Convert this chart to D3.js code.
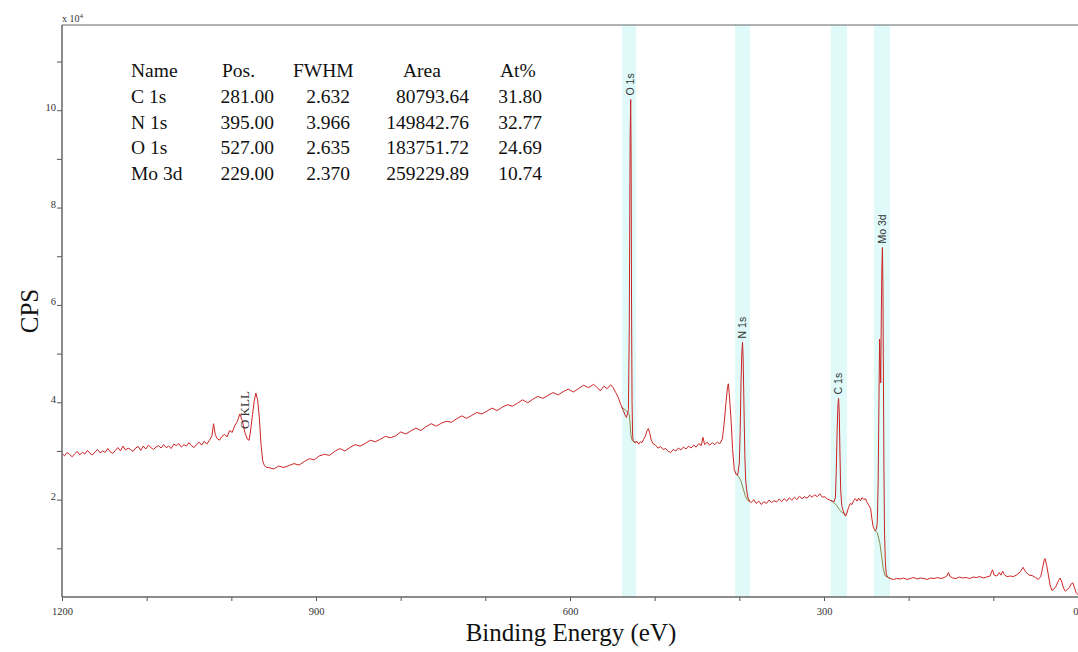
<!DOCTYPE html>
<html>
<head>
<meta charset="utf-8">
<script src="https://cdn.jsdelivr.net/npm/d3@7"></script>
<style>
body { margin: 0; background: #fff; }
svg { display: block; }
</style>
</head>
<body>
<div id="xps-survey"></div>
<script>
const width = 1078, height = 652;
const margin = {top: 25, right: 0, bottom: 55, left: 62};

// survey spectrum: [binding energy (eV), counts (x 10^4 CPS)]
const survey = [
  [1200,2.95],[1197,2.90],[1194,2.97],[1191,2.93],[1188,2.88],[1185,2.94],[1182,2.99],[1179,2.92],
  [1176,2.97],[1173,2.94],[1170,3.01],[1167,2.95],[1164,2.92],[1161,2.98],[1158,3.03],[1155,2.96],
  [1152,3.00],[1149,2.97],[1146,3.05],[1143,2.98],[1140,2.95],[1137,3.01],[1134,3.07],[1131,3.00],
  [1128,3.10],[1125,3.02],[1122,3.06],[1119,3.03],[1116,2.99],[1113,3.06],[1110,3.09],[1107,3.01],
  [1104,3.10],[1101,3.04],[1098,3.12],[1095,3.07],[1092,3.03],[1089,3.08],[1086,3.11],[1083,3.06],
  [1080,3.13],[1077,3.07],[1074,3.10],[1071,3.05],[1068,3.14],[1065,3.11],[1062,3.15],[1059,3.08],
  [1056,3.13],[1053,3.10],[1050,3.17],[1047,3.11],[1044,3.07],[1041,3.13],[1038,3.18],[1035,3.12],
  [1032,3.20],[1029,3.14],[1026,3.22],[1023,3.30],[1021,3.56],[1019,3.34],[1017,3.26],[1014,3.22],
  [1011,3.30],[1008,3.34],[1005,3.29],[1002,3.42],[999,3.38],[996,3.52],[993,3.60],[990,3.76],
  [987,3.62],[984,3.38],[981,3.24],[979,3.22],[977,3.45],[975,3.75],[973,4.02],[971,4.19],
  [969,4.05],[967,3.70],[965,3.15],[963,2.80],[961,2.70],[958,2.66],
  [956,2.66],[950,2.63],[944,2.69],[938,2.66],[932,2.70],[926,2.74],[920,2.71],[914,2.78],
  [908,2.84],[902,2.82],[896,2.90],[890,2.93],[884,2.91],[878,2.99],[872,3.05],[866,3.00],
  [860,3.07],[854,3.13],[848,3.10],[842,3.15],[836,3.22],[830,3.19],[824,3.24],[818,3.30],
  [812,3.27],[806,3.31],[800,3.39],[794,3.35],[788,3.41],[782,3.47],[776,3.42],[770,3.50],
  [764,3.56],[758,3.51],[752,3.57],[746,3.61],[740,3.59],[734,3.66],[728,3.72],[722,3.67],
  [716,3.73],[710,3.79],[704,3.76],[698,3.82],[692,3.88],[686,3.83],[680,3.90],[674,3.95],
  [668,3.92],[662,3.98],[656,4.05],[650,3.99],[644,4.06],[638,4.12],[632,4.08],[626,4.14],
  [620,4.20],[614,4.15],[608,4.22],[602,4.27],[596,4.21],[590,4.28],[584,4.35],[578,4.30],
  [572,4.37],[568,4.30],[564,4.24],[560,4.33],[556,4.28],[552,4.36],[549,4.30],[546,4.20],
  [543,4.10],[540,3.95],[537,3.83],[535,3.74],[533.5,3.69],[532,3.76],
  [531,3.85],[530,5.50],[529.5,7.50],[529,9.40],[528.3,10.22],[527.8,9.00],[527.3,6.00],
  [526.7,4.00],[526,3.30],
  [525.3,3.21],[523,3.16],[521,3.20],[519,3.14],[517,3.19],[515,3.17],[513,3.24],[511,3.30],
  [509,3.42],[507.5,3.46],[506,3.38],[504,3.22],[502,3.15],[499,3.12],[496,3.06],[493,3.09],
  [490,3.03],[487,3.05],[484,2.99],[481,2.97],[478,3.03],[475,3.00],[472,3.06],[469,3.02],
  [466,3.08],[463,3.04],[460,3.10],[457,3.06],[454,3.12],[451,3.08],[448,3.15],[445,3.11],
  [443,3.28],[441,3.13],[438,3.18],[435,3.12],[432,3.17],[429,3.13],[426,3.18],[423,3.15],
  [420,3.25],[418,3.55],[416,3.95],[414,4.30],[413,4.38],[412,4.20],[410,3.70],[408,3.05],
  [406,2.62],[404,2.53],[402,2.50],[400,2.75],[399,3.40],[398,4.40],[397,5.05],[396.2,5.23],
  [395.5,4.90],[394.5,3.90],[393.5,2.90],[392.5,2.40],[391.5,2.22],[390,2.05],[388,1.97],
  [386,1.94],[383,2.00],[380,1.92],[377,1.97],[374,1.90],[371,1.96],[368,1.92],[365,1.99],
  [362,1.94],[359,1.98],[356,1.95],[353,2.01],[350,1.96],[347,2.02],[344,1.97],[341,2.04],
  [338,1.99],[335,2.05],[332,2.00],[329,2.07],[326,2.02],[323,2.06],[320,2.03],[317,2.09],
  [314,2.05],[311,2.10],[308,2.06],[305,2.12],[302,2.05],[299,2.06],[296,2.01],[293,1.99],
  [290,1.97],[288,1.96],[286.5,2.05],[285.5,2.60],[284.5,3.40],[283.5,3.95],[282.8,4.08],
  [282,3.80],[281.2,3.00],[280.3,2.20],[279,1.88],[277.5,1.78],[276,1.70],[274.5,1.66],
  [273,1.72],[271,1.84],[269,1.92],[267,1.90],[265,1.98],[263,2.02],[261,1.97],[259,2.03],
  [257,1.98],[255,2.04],[253,2.00],[251,2.02],[249,1.94],[247,1.88],[245,1.82],[243.5,1.62],
  [242,1.45],[240.5,1.39],[239,1.37],[238,1.40],[237,1.55],[236,2.40],[235,4.20],[234.3,5.30],
  [233.7,4.90],[233,4.40],[232.3,5.80],[231.6,6.80],[231,7.18],[230.4,6.40],[229.8,4.50],
  [229.2,2.60],[228.5,1.30],[227.5,0.70],[226.5,0.48],[225.5,0.42],[224,0.40],
  [222,0.38],[218,0.36],[214,0.38],[210,0.37],[206,0.39],[202,0.36],[198,0.38],[194,0.40],
  [190,0.37],[186,0.39],[182,0.38],[178,0.36],[174,0.39],[170,0.38],[166,0.40],[162,0.38],
  [158,0.40],[155,0.43],[153,0.50],[151,0.42],[148,0.39],[144,0.38],[140,0.41],[136,0.39],
  [132,0.40],[128,0.38],[124,0.41],[120,0.40],[116,0.42],[112,0.39],[108,0.41],[104,0.43],
  [101,0.56],[99,0.45],[96,0.43],[93,0.50],[91,0.45],[89,0.53],[87,0.46],[84,0.42],
  [80,0.43],[76,0.42],[72,0.46],[68,0.52],[65,0.61],[62,0.52],[58,0.45],[54,0.44],
  [50,0.40],[47,0.36],[44,0.42],[42,0.58],[40,0.75],[39,0.79],[37,0.65],[35,0.45],
  [33,0.25],[31,0.14],[29,0.15],[26,0.22],[23,0.34],[21,0.39],[19,0.30],[17,0.18],
  [15,0.12],[13,0.15],[10,0.20],[8,0.27],[6,0.29],[4,0.18],[2,0.08],[0,0.05]
];

// fitted backgrounds under the quantified peaks
const bgO1s = [[539,3.90],[533,3.82],[530,3.75],[529,3.55],[528,3.32],[526.5,3.21],[522,3.18]];
const bgN1s = [[405,2.54],[401,2.48],[398,2.38],[395,2.20],[393,2.08],[390,1.98],[387.5,1.96]];
const bgC1s = [[292,1.98],[289,1.95],[285,1.88],[282,1.80],[279,1.74],[275,1.70],[273,1.70]];
const bgMo3d = [[241,1.38],[237,1.32],[234,1.10],[232,0.85],[230,0.58],[228,0.44],[224,0.40],[222,0.39]];

// quantification regions (from, to in eV)
const regions = [[538.5,522],[405,387.5],[292,273],[241,222]];

// peak labels: name, binding energy, counts at label foot
const peakLabels = [["O 1s",528.3,10.22],["N 1s",396.2,5.23],["C 1s",282.8,4.08],["Mo 3d",231,7.18]];
const augerLabel = ["O KLL",984,3.45];

// quantification table
const tableHead = ["Name","Pos.","FWHM","Area","At%"];
const tableName = ["C 1s","N 1s","O 1s","Mo 3d"];
const tablePos = ["281.00","395.00","527.00","229.00"];
const tableFwhm = ["2.632","3.966","2.635","2.370"];
const tableArea = ["80793.64","149842.76","183751.72","259229.89"];
const tableAt = ["31.80","32.77","24.69","10.74"];

const xTicks = d3.range(0, 1201, 100);
const yTicks = d3.range(1, 12, 1);

const serif = "'Liberation Serif', 'Times New Roman', serif";
const sans = "'Liberation Sans', Arial, sans-serif";

const svg = d3.select("#xps-survey")
    .append("svg")
    .attr("width", width)
    .attr("height", height);

const x = d3.scaleLinear()
    .domain([1200, 0])
    .range([margin.left, width - margin.right]);

const y = d3.scaleLinear()
    .domain([0, 11.75])
    .range([height - margin.bottom, margin.top]);

svg.append("clipPath").attr("id", "plot-clip")
  .append("rect")
    .attr("x", margin.left)
    .attr("y", margin.top)
    .attr("width", width - margin.left - margin.right)
    .attr("height", height - margin.top - margin.bottom);

const plot = svg.append("g").attr("clip-path", "url(#plot-clip)");

// cyan region bands
plot.selectAll("rect.band")
    .data(regions)
    .enter()
    .append("rect")
    .attr("class", "band")
    .attr("x", d => x(d[0]))
    .attr("width", d => x(d[1]) - x(d[0]))
    .attr("y", margin.top)
    .attr("height", height - margin.top - margin.bottom)
    .style("fill", "#e0fafa");

const line = d3.line()
    .x(d => x(d[0]))
    .y(d => y(d[1]));

plot.selectAll("path.bg")
    .data([bgO1s, bgN1s, bgC1s, bgMo3d])
    .enter()
    .append("path")
    .attr("class", "bg")
    .attr("d", line)
    .style("fill", "none")
    .style("stroke", "#8a8a44")
    .style("stroke-width", 1);

plot.append("path")
    .datum(survey)
    .attr("d", line)
    .style("fill", "none")
    .style("stroke", "#cc2424")
    .style("stroke-width", 1)
    .style("stroke-linejoin", "round");

// peak labels
plot.selectAll("text.peak")
    .data(peakLabels)
    .enter()
    .append("text")
    .attr("class", "peak")
    .attr("transform", d => `translate(${x(d[1])},${y(d[2]) - 4}) rotate(-90)`)
    .attr("dy", "0.35em")
    .style("font-family", sans)
    .style("font-size", "10.5px")
    .style("fill", "#333")
    .text(d => d[0]);

plot.append("text")
    .attr("transform", `translate(${x(augerLabel[1])},${y(augerLabel[2])}) rotate(-90)`)
    .attr("dy", "0.35em")
    .style("font-family", serif)
    .style("font-size", "13px")
    .style("fill", "#333")
    .text(augerLabel[0]);

// axes
const yAxis = svg.append("g")
    .attr("transform", `translate(${margin.left},0)`)
    .call(d3.axisLeft(y).tickValues(yTicks).tickSize(5).tickSizeOuter(0)
        .tickFormat(d => d % 2 === 0 ? d : ""));
yAxis.select(".domain").remove();
yAxis.selectAll("line").style("stroke", "#555");
yAxis.selectAll("text")
    .attr("x", -6)
    .attr("dy", "0")
    .style("font-family", serif)
    .style("font-size", "10.5px")
    .style("fill", "#333");

const xAxis = svg.append("g")
    .attr("transform", `translate(0,${height - margin.bottom})`)
    .call(d3.axisBottom(x).tickValues(xTicks).tickSize(4).tickSizeOuter(0)
        .tickFormat(d => d % 300 === 0 ? d : ""));
xAxis.select(".domain").remove();
xAxis.selectAll("line").style("stroke", "#555");
xAxis.selectAll("text")
    .attr("y", 11)
    .attr("text-anchor", d => d === 0 ? "end" : "middle")
    .style("font-family", serif)
    .style("font-size", "10.5px")
    .style("fill", "#333");

// frame
const frame = svg.append("g").style("stroke", "#666").style("fill", "none");
frame.append("line")
    .attr("x1", margin.left).attr("x2", width)
    .attr("y1", margin.top).attr("y2", margin.top)
    .style("stroke-width", 1.2);
frame.append("line")
    .attr("x1", margin.left).attr("x2", margin.left)
    .attr("y1", margin.top).attr("y2", height - margin.bottom)
    .style("stroke-width", 1.5);
frame.append("line")
    .attr("x1", margin.left).attr("x2", width)
    .attr("y1", height - margin.bottom).attr("y2", height - margin.bottom)
    .style("stroke-width", 1.5);

// multiplier
const mult = svg.append("text")
    .attr("x", margin.left)
    .attr("y", margin.top - 3)
    .style("font-family", serif)
    .style("font-size", "10px")
    .style("fill", "#333");
mult.append("tspan").text("x 10");
mult.append("tspan").attr("dy", "-4").style("font-size", "7px").text("4");

// axis titles
svg.append("text")
    .attr("transform", `translate(38,${(margin.top + height - margin.bottom) / 2}) rotate(-90)`)
    .attr("text-anchor", "middle")
    .style("font-family", serif)
    .style("font-size", "25px")
    .style("fill", "#111")
    .text("CPS");

svg.append("text")
    .attr("x", 571)
    .attr("y", 641)
    .attr("text-anchor", "middle")
    .style("font-family", serif)
    .style("font-size", "25px")
    .style("fill", "#111")
    .text("Binding Energy (eV)");

// quantification table
const table = svg.append("g")
    .style("font-family", serif)
    .style("font-size", "19.5px")
    .style("fill", "#111");
const headX = [131, 222, 293, 403, 500];
table.selectAll("text.head")
    .data(tableHead)
    .enter()
    .append("text")
    .attr("class", "head")
    .attr("x", (d, i) => headX[i])
    .attr("y", 77)
    .text(d => d);

const cols = [
    {vals: tableName, x: 131, anchor: "start"},
    {vals: tablePos, x: 274, anchor: "end"},
    {vals: tableFwhm, x: 350, anchor: "end"},
    {vals: tableArea, x: 469, anchor: "end"},
    {vals: tableAt, x: 542, anchor: "end"}
];
cols.forEach(c => {
    table.selectAll(null)
        .data(c.vals)
        .enter()
        .append("text")
        .attr("x", c.x)
        .attr("y", (d, i) => 103 + i * 25.7)
        .attr("text-anchor", c.anchor)
        .text(d => d);
});
</script>
</body>
</html>
